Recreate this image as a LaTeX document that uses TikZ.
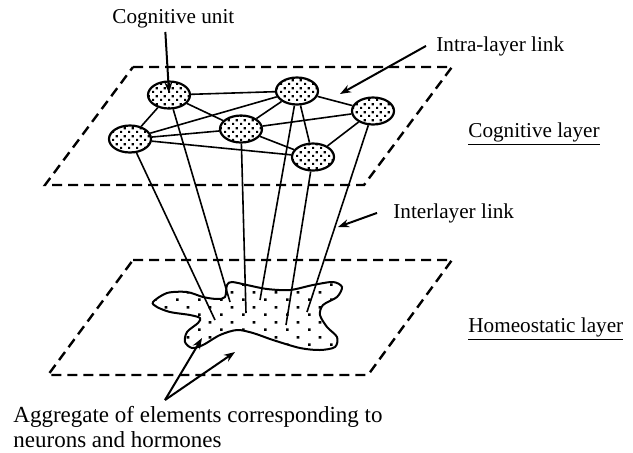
\documentclass[tikz,border=0pt]{standalone}
\usepackage{fontspec}
\setmainfont{Liberation Serif}
\usetikzlibrary{shapes.geometric}
\usetikzlibrary{arrows.meta}
\usetikzlibrary{patterns.meta}

\tikzdeclarepattern{name=unitdots, type=uncolored,
  bounding box={(0,0) and (4pt,4pt)}, tile size={(4pt,4pt)},
  code={\fill (0,0) rectangle (1.2pt,1.2pt); \fill (2pt,2pt) rectangle (3.2pt,3.2pt);}}
\tikzdeclarepattern{name=blobdots, type=uncolored,
  bounding box={(0,0) and (11pt,7.6pt)}, tile size={(11pt,7.6pt)},
  code={\fill (0,0) rectangle (1.4pt,1.4pt); \fill (5.5pt,3.8pt) rectangle (6.9pt,5.2pt);}}

\begin{document}
\begin{tikzpicture}[x=0.5pt,y=-0.5pt,
    unit/.style={ellipse, draw, line width=1.1pt, pattern=unitdots,
      minimum width=21pt, minimum height=13.5pt, inner sep=0pt},
    link/.style={line width=0.8pt},
    layer/.style={line width=1.2pt, dash pattern=on 5pt off 3pt},
    callout/.style={line width=1pt, -{Stealth[length=5.5pt,width=4pt]}},
    lbl/.style={font=\fontsize{10.6}{13}\selectfont, inner sep=2pt}]
    \useasboundingbox (0,0) rectangle (633,452);

    \draw[layer] (133,67) -- (452,67) -- (364,185) -- (45,185) -- cycle;
    \draw[layer] (133,260) -- (452,260) -- (368,375) -- (48,375) -- cycle;

    \draw[line width=1pt, pattern=blobdots] plot[smooth cycle] coordinates {
      (153,302) (167,293) (187,292) (203,297) (217,299) (225,297) (227,285)
      (232,282) (247,285) (267,289) (290,290) (313,285) (333,282) (342,287)
      (337,297) (323,305) (320,315) (327,327) (337,337) (335,347) (320,350)
      (300,348) (273,340) (253,333) (237,330) (220,335) (203,345) (192,348)
      (185,342) (187,332) (198,323) (200,318) (190,315) (170,312) (157,307)};

    \node[unit] (u1) at (169,95) {};
    \node[unit] (u2) at (297,91) {};
    \node[unit] (u3) at (373,111) {};
    \node[unit] (u4) at (241,129) {};
    \node[unit] (u5) at (130,139) {};
    \node[unit] (u6) at (313,157) {};

    \foreach \a/\b in {u1/u2,u1/u4,u1/u5,u5/u2,u5/u4,u5/u6,u4/u2,u4/u3,u4/u6,u2/u3,u2/u6,u6/u3}
      \draw[link] (\a) -- (\b);

    \coordinate (l1) at (230,302);
    \coordinate (l2) at (260,300);
    \coordinate (l3) at (307,312);
    \coordinate (l4) at (246,313);
    \coordinate (l5) at (215,320);
    \coordinate (l6) at (286,325);
    \foreach \i in {1,...,6}
      \draw[link] (u\i) -- (l\i);

    \node[lbl, anchor=base west] (cogunit) at (108,23) {Cognitive unit};
    \node[lbl, anchor=base west] (intra) at (432,51) {Intra-layer link};
    \node[lbl, anchor=base west] (coglayer) at (464,137) {\underline{Cognitive layer}};
    \node[lbl, anchor=base west] (inter) at (389,218) {Interlayer link};
    \node[lbl, anchor=base west] (homeo) at (464,332) {\underline{Homeostatic layer}};
    \node[lbl, font=\fontsize{11.5}{12.3}\selectfont, inner sep=0pt, anchor=north west, align=left] (agg) at (13,406)
      {Aggregate of elements corresponding to\\neurons and hormones};

    \coordinate (unithit) at (169,93);
    \coordinate (intrahit) at (340,94);
    \coordinate (interhit) at (338,227);
    \coordinate (aggfoot) at (165,400);
    \coordinate (agga) at (202,338);
    \coordinate (aggb) at (235,352);
    \draw[callout] ([xshift=-4pt]cogunit.south) -- (unithit);
    \draw[callout] ([xshift=-3pt]intra.west) -- (intrahit);
    \draw[callout] ([xshift=-6pt]inter.west) -- (interhit);
    \draw[callout] (aggfoot) -- (agga);
    \draw[callout] (aggfoot) -- (aggb);
  \end{tikzpicture}
\end{document}
